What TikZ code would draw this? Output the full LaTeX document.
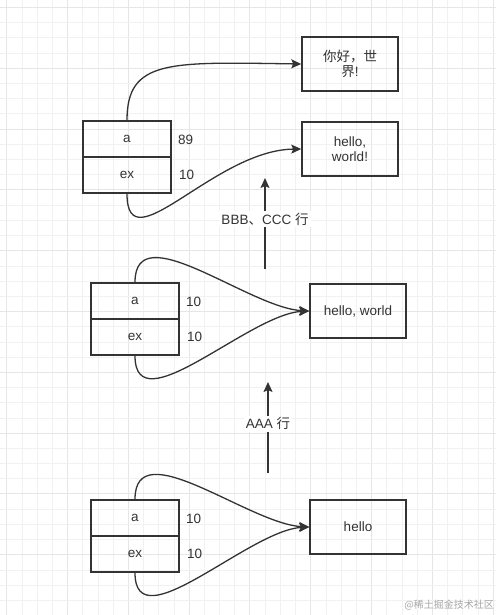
\documentclass[tikz,border=0pt]{standalone}
\usepackage{fontspec}
\setmainfont{Liberation Sans}
\newfontfamily\cjk{Noto Sans CJK SC}
\usetikzlibrary{arrows.meta}
\definecolor{ln}{HTML}{333333}
\definecolor{tx}{HTML}{333333}
\definecolor{gminor}{HTML}{F1F1F1}
\definecolor{gmajor}{HTML}{E6E6E6}
\begin{document}
\begin{tikzpicture}[x=1pt,y=-1pt,
  cell/.style={draw=ln, line width=1.5pt, minimum width=88pt, minimum height=36pt, inner sep=0pt, font=\fontsize{13.5}{15.5}\selectfont, text=tx},
  strbox/.style={draw=ln, line width=1.5pt, minimum width=96pt, minimum height=54pt, inner sep=0pt, align=center, font=\fontsize{13.5}{15.5}\selectfont, text=tx},
  val/.style={font=\fontsize{13.5}{15.5}\selectfont, text=tx, anchor=west, inner sep=0pt},
  arr/.style={draw=ln, line width=1.3pt, -{Stealth[length=10pt,width=9pt,inset=2pt]}},
  lbl/.style={fill=white, font=\fontsize{13.5}{15.5}\selectfont, text=tx, inner sep=2pt}]
\useasboundingbox (0,0) rectangle (496,615);
\fill[white] (0,0) rectangle (496,615);
% grid
\foreach \i in {0,...,32} {
  \pgfmathsetmacro{\xx}{6.7+15.2*\i}
  \pgfmathtruncatemacro{\m}{mod(\i,4)}
  \ifnum\m=0
    \draw[gmajor, line width=1pt] (\xx,0) -- (\xx,615);
  \else
    \draw[gminor, line width=0.8pt] (\xx,0) -- (\xx,615);
  \fi
}
\foreach \i in {0,...,40} {
  \pgfmathsetmacro{\yy}{7.5+15.2*\i}
  \pgfmathtruncatemacro{\m}{mod(\i,4)}
  \ifnum\m=0
    \draw[gmajor, line width=1pt] (0,\yy) -- (496,\yy);
  \else
    \draw[gminor, line width=0.8pt] (0,\yy) -- (496,\yy);
  \fi
}
% ---- top section
\node[cell] (a0) at (127,139) {a};
\node[cell] (ex0) at (127,175) {ex};
\node[val] (v0a) at (178,140) {89};
\node[val] (v0e) at (179,175) {10};
\node[strbox] (w0) at (350,64) {{\cjk 你好，世}\\{\cjk 界}!};
\node[strbox] (w1) at (350,149) {hello,\\world!};
\draw[arr] (a0.north) .. controls +(0,-61) and +(-132,-2) .. (w0.west);
\draw[arr] (ex0.south) .. controls +(0,72) and +(-87,1) .. (w1.west);
% ---- middle section
\node[cell] (a1) at (135,301) {a};
\node[cell] (ex1) at (135,337) {ex};
\node[val] (v1a) at (186,302) {10};
\node[val] (v1e) at (187,337) {10};
\node[strbox] (hw) at (358,311) {hello, world};
\draw[arr] (a1.north) .. controls +(0,-68) and +(-60,-3) .. (hw.west);
\draw[arr] (ex1.south) .. controls +(0,70) and +(-60,3) .. (hw.west);
% ---- bottom section
\node[cell] (a2) at (135,518) {a};
\node[cell] (ex2) at (135,554) {ex};
\node[val] (v2a) at (186,519) {10};
\node[val] (v2e) at (187,554) {10};
\node[strbox] (h) at (358,527) {hello};
\draw[arr] (a2.north) .. controls +(0,-68) and +(-60,-3) .. (h.west);
\draw[arr] (ex2.south) .. controls +(0,70) and +(-60,3) .. (h.west);
% ---- step arrows
\coordinate (b1s) at (265,269);
\coordinate (b1e) at (265,178);
\draw[arr] (b1s) -- node[lbl, pos=0.55] {BBB{\cjk 、}CCC {\cjk 行}} (b1e);
\coordinate (b2s) at (268,473);
\coordinate (b2e) at (268,382);
\draw[arr] (b2s) -- node[lbl, pos=0.54] {AAA {\cjk 行}} (b2e);
% watermark
\node[anchor=east, inner sep=0pt, text=black!35, font=\cjk\fontsize{10}{12}\selectfont] (wm) at (494,605) {@稀土掘金技术社区};
\end{tikzpicture}
\end{document}
